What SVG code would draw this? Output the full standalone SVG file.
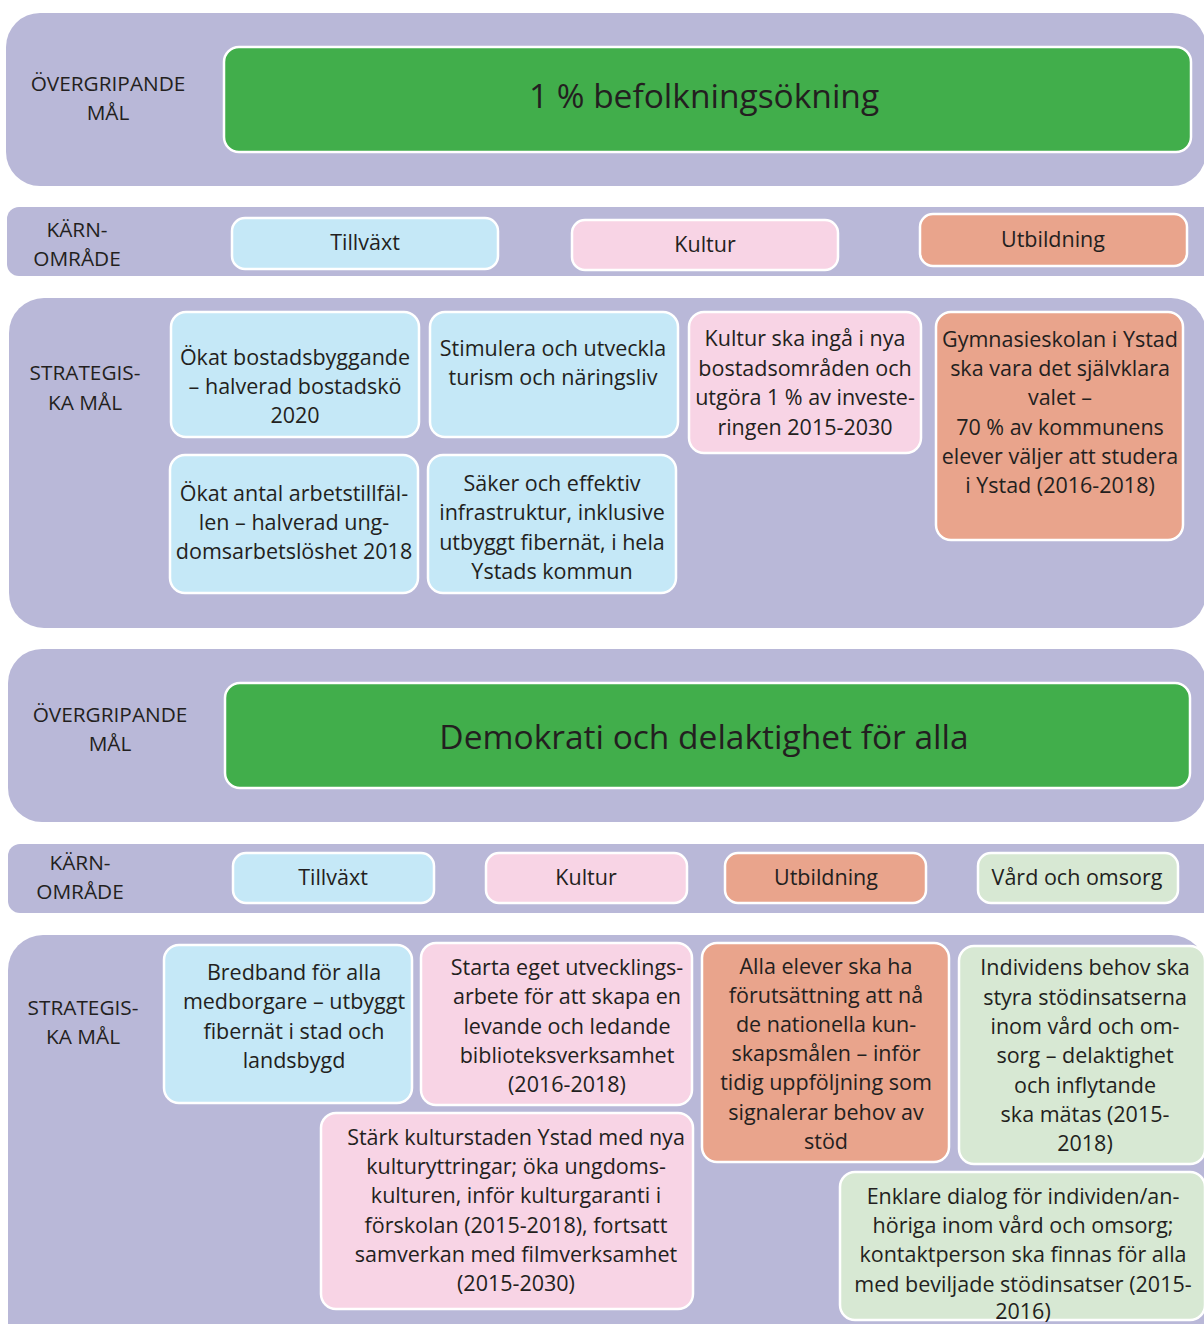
<svg xmlns="http://www.w3.org/2000/svg" width="1204" height="1324" viewBox="0 0 1204 1324">
<style>
.panel{fill:#B9B8D8}
.box{stroke:#FFFFFF;stroke-width:2.5}
.green{fill:#41AE4B}
.blue{fill:#C5E8F7}
.pink{fill:#F8D4E5}
.salmon{fill:#E9A48C}
.lgreen{fill:#D7E8D3}
text{font-family:"Open Sans","Noto Sans","Liberation Sans",sans-serif;fill:#231F20;text-anchor:middle}
.t{font-size:21.5px}
.lbl{font-size:20.8px}
.title{font-size:33.5px}
</style>
<rect width="1204" height="1324" fill="#FFFFFF"/>
<g id="panel1">
<rect class="panel" x="6" y="13" width="1200" height="173" rx="34"/>
<text class="lbl" x="108" y="91">ÖVERGRIPANDE</text>
<text class="lbl" x="108" y="120">MÅL</text>
</g>
<g id="goal1">
<rect class="box green" x="224" y="47" width="967" height="105" rx="15"/>
<text class="title" x="704" y="108">1 % befolkningsökning</text>
</g>
<g id="panel2">
<rect class="panel" x="7" y="207" width="1210" height="69" rx="12"/>
<text class="lbl" x="77" y="237">KÄRN-</text>
<text class="lbl" x="77" y="266">OMRÅDE</text>
</g>
<g id="k1-tillvaxt"><rect class="box blue" x="232" y="218" width="266" height="51" rx="13"/><text class="t" x="365" y="250">Tillväxt</text></g>
<g id="k1-kultur"><rect class="box pink" x="572" y="220" width="266" height="50" rx="13"/><text class="t" x="705" y="252">Kultur</text></g>
<g id="k1-utbildning"><rect class="box salmon" x="920" y="214" width="267" height="52" rx="13"/><text class="t" x="1053" y="247">Utbildning</text></g>
<g id="panel3">
<rect class="panel" x="9" y="298" width="1197" height="330" rx="35"/>
<text class="lbl" x="85" y="380">STRATEGIS-</text>
<text class="lbl" x="85" y="410">KA MÅL</text>
</g>
<g id="s1-a"><rect class="box blue" x="171" y="312" width="248" height="125" rx="15"/>
<text class="t" x="295" y="365">Ökat bostadsbyggande</text><text class="t" x="295" y="394">– halverad bostadskö</text><text class="t" x="295" y="423">2020</text></g>
<g id="s1-b"><rect class="box blue" x="430" y="312" width="248" height="125" rx="15"/>
<text class="t" x="553" y="356">Stimulera och utveckla</text><text class="t" x="553" y="385">turism och näringsliv</text></g>
<g id="s1-c"><rect class="box pink" x="689" y="312" width="232" height="141" rx="15"/>
<text class="t" x="805" y="346">Kultur ska ingå i nya</text><text class="t" x="805" y="376">bostadsområden och</text><text class="t" x="805" y="405">utgöra 1 % av investe-</text><text class="t" x="805" y="435">ringen 2015-2030</text></g>
<g id="s1-d"><rect class="box salmon" x="936" y="312" width="247" height="228" rx="15"/>
<text class="t" x="1060" y="347">Gymnasieskolan i Ystad</text><text class="t" x="1060" y="376">ska vara det självklara</text><text class="t" x="1060" y="405">valet –</text><text class="t" x="1060" y="435">70 % av kommunens</text><text class="t" x="1060" y="464">elever väljer att studera</text><text class="t" x="1060" y="493">i Ystad (2016-2018)</text></g>
<g id="s1-e"><rect class="box blue" x="170" y="455" width="248" height="138" rx="15"/>
<text class="t" x="294" y="501">Ökat antal arbetstillfäl-</text><text class="t" x="294" y="530">len – halverad ung-</text><text class="t" x="294" y="559">domsarbetslöshet 2018</text></g>
<g id="s1-f"><rect class="box blue" x="428" y="455" width="248" height="138" rx="15"/>
<text class="t" x="552" y="491">Säker och effektiv</text><text class="t" x="552" y="520">infrastruktur, inklusive</text><text class="t" x="552" y="550">utbyggt fibernät, i hela</text><text class="t" x="552" y="579">Ystads kommun</text></g>
<g id="panel4">
<rect class="panel" x="8" y="649" width="1198" height="173" rx="34"/>
<text class="lbl" x="110" y="722">ÖVERGRIPANDE</text>
<text class="lbl" x="110" y="751">MÅL</text>
</g>
<g id="goal2">
<rect class="box green" x="225" y="683" width="965" height="105" rx="15"/>
<text class="title" x="704" y="749">Demokrati och delaktighet för alla</text>
</g>
<g id="panel5">
<rect class="panel" x="8" y="844" width="1210" height="69" rx="12"/>
<text class="lbl" x="80" y="870">KÄRN-</text>
<text class="lbl" x="80" y="899">OMRÅDE</text>
</g>
<g id="k2-tillvaxt"><rect class="box blue" x="233" y="853" width="201" height="50" rx="13"/><text class="t" x="333" y="885">Tillväxt</text></g>
<g id="k2-kultur"><rect class="box pink" x="486" y="853" width="201" height="50" rx="13"/><text class="t" x="586" y="885">Kultur</text></g>
<g id="k2-utbildning"><rect class="box salmon" x="725" y="853" width="201" height="50" rx="13"/><text class="t" x="826" y="885">Utbildning</text></g>
<g id="k2-vard"><rect class="box lgreen" x="978" y="853" width="200" height="50" rx="13"/><text class="t" x="1077" y="885">Vård och omsorg</text></g>
<g id="panel6">
<rect class="panel" x="8" y="935" width="1198" height="430" rx="35"/>
<text class="lbl" x="83" y="1015">STRATEGIS-</text>
<text class="lbl" x="83" y="1044">KA MÅL</text>
</g>
<g id="s2-bredband"><rect class="box blue" x="164" y="945" width="248" height="158" rx="15"/>
<text class="t" x="294" y="980">Bredband för alla</text><text class="t" x="294" y="1009">medborgare – utbyggt</text><text class="t" x="294" y="1039">fibernät i stad och</text><text class="t" x="294" y="1068">landsbygd</text></g>
<g id="s2-starta"><rect class="box pink" x="421" y="943" width="271" height="162" rx="15"/>
<text class="t" x="567" y="975">Starta eget utvecklings-</text><text class="t" x="567" y="1004">arbete för att skapa en</text><text class="t" x="567" y="1034">levande och ledande</text><text class="t" x="567" y="1063">biblioteksverksamhet</text><text class="t" x="567" y="1092">(2016-2018)</text></g>
<g id="s2-stark"><rect class="box pink" x="321" y="1113" width="372" height="196" rx="15"/>
<text class="t" x="516" y="1145">Stärk kulturstaden Ystad med nya</text><text class="t" x="516" y="1174">kulturyttringar; öka ungdoms-</text><text class="t" x="516" y="1203">kulturen, inför kulturgaranti i</text><text class="t" x="516" y="1233">förskolan (2015-2018), fortsatt</text><text class="t" x="516" y="1262">samverkan med filmverksamhet</text><text class="t" x="516" y="1291">(2015-2030)</text></g>
<g id="s2-alla"><rect class="box salmon" x="702" y="943" width="247" height="219" rx="15"/>
<text class="t" x="826" y="974">Alla elever ska ha</text><text class="t" x="826" y="1003">förutsättning att nå</text><text class="t" x="826" y="1032">de nationella kun-</text><text class="t" x="826" y="1061">skapsmålen – inför</text><text class="t" x="826" y="1090">tidig uppföljning som</text><text class="t" x="826" y="1120">signalerar behov av</text><text class="t" x="826" y="1149">stöd</text></g>
<g id="s2-individ"><rect class="box lgreen" x="959" y="946" width="246" height="218" rx="15"/>
<text class="t" x="1085" y="975">Individens behov ska</text><text class="t" x="1085" y="1005">styra stödinsatserna</text><text class="t" x="1085" y="1034">inom vård och om-</text><text class="t" x="1085" y="1063">sorg – delaktighet</text><text class="t" x="1085" y="1093">och inflytande</text><text class="t" x="1085" y="1122">ska mätas (2015-</text><text class="t" x="1085" y="1151">2018)</text></g>
<g id="s2-enklare"><rect class="box lgreen" x="840" y="1172" width="365" height="148" rx="15"/>
<text class="t" x="1023" y="1204">Enklare dialog för individen/an-</text><text class="t" x="1023" y="1233">höriga inom vård och omsorg;</text><text class="t" x="1023" y="1262">kontaktperson ska finnas för alla</text><text class="t" x="1023" y="1292">med beviljade stödinsatser (2015-</text><text class="t" x="1023" y="1319">2016)</text></g>
<g id="connectors"></g>
</svg>
